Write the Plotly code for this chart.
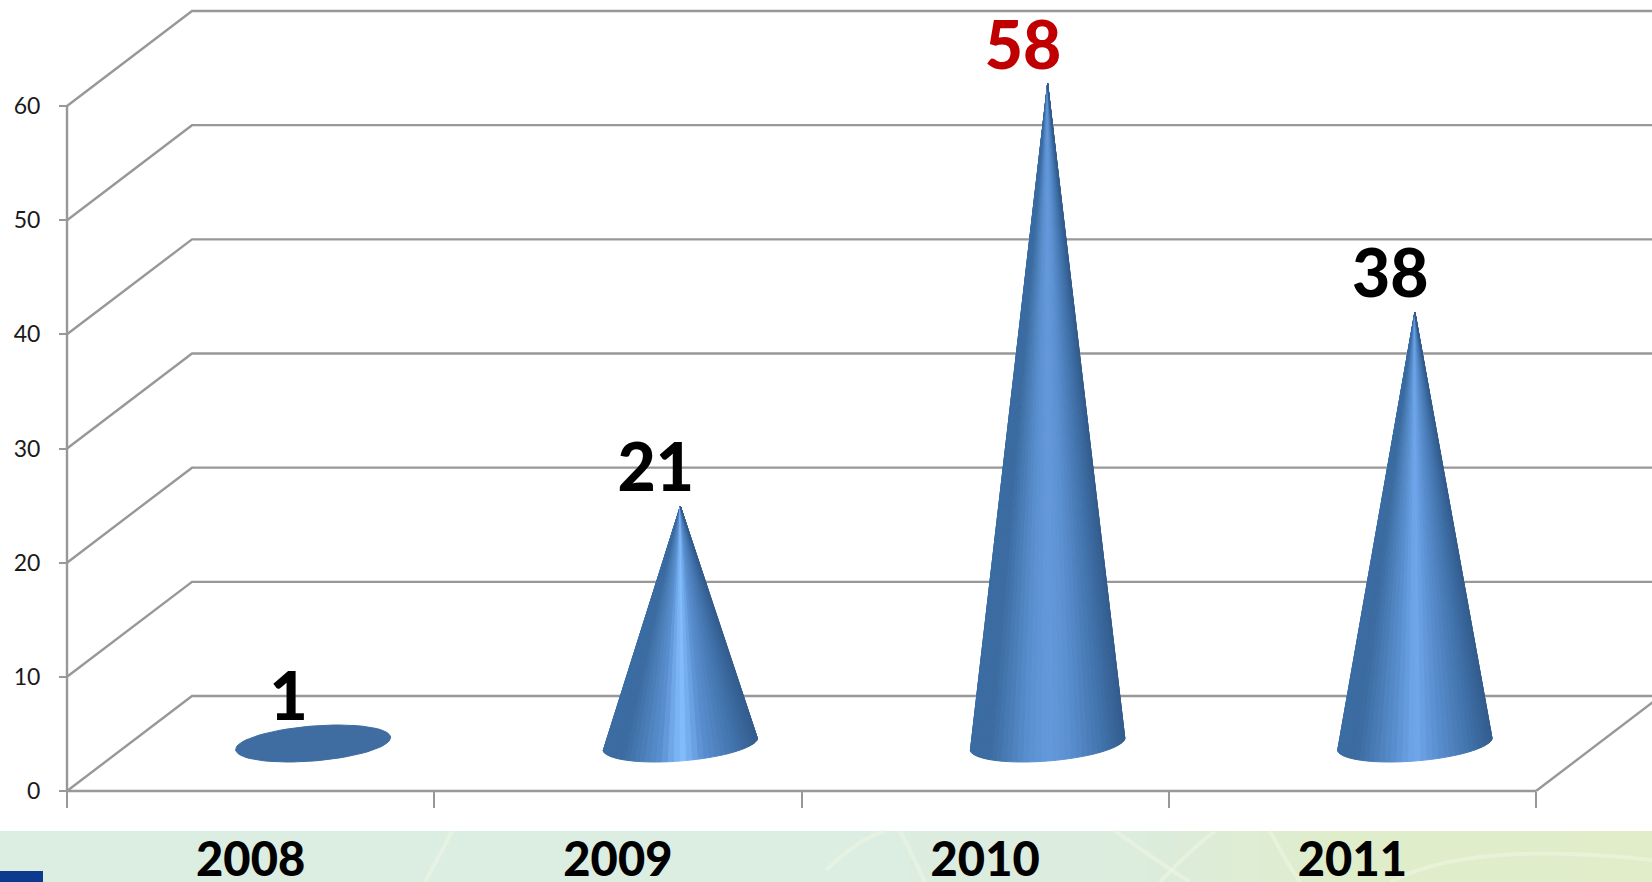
import math
import plotly.graph_objects as go

# ---- data ----
years = ["2008", "2009", "2010", "2011"]
values = [1, 21, 58, 38]
grid_values = [0, 10, 20, 30, 40, 50, 60]

# ---- style ----
W, H = 1652, 882
L, R, T, B = 67, 116, 106, 91
XU = (W - L - R) / 4.0          # px per category
YU = (H - T - B) / 60.0         # px per value unit
DEPTH_X = 125 / XU
DEPTH_Y = 95 / YU
GRID = "#989898"
FONT = "Lato"
RX = 77.5 / XU
RY = 17.5 / YU
TILT = 6.0 / YU
LABEL_DX = 38 / XU
LABEL_DY = 76.5 / YU
APEX_INSET = 2.5 / YU
HIGHLIGHT = ["#4A7DB5", "#84BEFF", "#6499DC", "#70A8EC"]
N = 40


def lerp(c1, c2, f):
    a = [int(c1[i:i + 2], 16) for i in (1, 3, 5)]
    b = [int(c2[i:i + 2], 16) for i in (1, 3, 5)]
    return "rgb(%d,%d,%d)" % tuple(round(a[i] + (b[i] - a[i]) * f) for i in range(3))


def shade(u, hi):
    stops = [(-1, "#3A6CA3"), (-0.75, "#3B6B9F"), (-0.25, "#5A90D0"), (0.02, hi),
             (0.3, "#5A8FD0"), (0.75, "#3F70A8"), (1, "#325C8D")]
    for (u0, c0), (u1, c1) in zip(stops, stops[1:]):
        if u <= u1:
            return lerp(c0, c1, (u - u0) / (u1 - u0))
    return stops[-1][1]


fig = go.Figure()


def line(xs, ys):
    fig.add_trace(go.Scatter(x=xs, y=ys, mode="lines", hoverinfo="skip",
                             line=dict(color=GRID, width=2.4), showlegend=False))


# back wall, side wall and floor edge, one per gridline
XMAX = 4 + R / XU + DEPTH_X
for g in grid_values:
    line([0, DEPTH_X, XMAX], [g, g + DEPTH_Y, g + DEPTH_Y])
line([4, 4 + DEPTH_X], [0, DEPTH_Y])
line([0, 0], [0, grid_values[-1]])      # value axis line
line([0, 4], [0, 0])                    # category axis line

# cones, as fans of thin polygons from apex to base ellipse
for i, v in enumerate(values):
    cx = i + 0.5 + DEPTH_X / 2
    cy = DEPTH_Y / 2
    ay = cy + v - APEX_INSET
    hi = HIGHLIGHT[i]
    def base(t):
        return cx + RX * math.cos(t), cy + TILT * math.cos(t) - RY * math.sin(t)
    if v < RY:
        ts = [2 * math.pi * k / 72 for k in range(73)]
        pts = [base(t) for t in ts]
        fig.add_trace(go.Scatter(x=[p[0] for p in pts], y=[p[1] for p in pts], mode="lines",
                                 fill="toself", fillcolor="#3F6DA1", line=dict(color="#3F6DA1", width=1),
                                 hoverinfo="skip", showlegend=False))
        continue
    ts = [math.pi - math.pi * k / N for k in range(N + 1)]
    for t0, t1 in zip(ts, ts[1:]):
        x0, y0 = base(t0)
        x1, y1 = base(t1)
        col = shade(math.cos((t0 + t1) / 2), hi)
        fig.add_trace(go.Scatter(x=[cx, x0, x1, cx], y=[ay, y0, y1, ay], mode="lines",
                                 fill="toself", fillcolor=col, line=dict(color=col, width=1),
                                 hoverinfo="skip", showlegend=False))

# value labels
fig.add_trace(go.Scatter(
    x=[i + 0.5 + LABEL_DX for i in range(4)],
    y=[v + LABEL_DY for v in values],
    mode="text", text=[str(v) for v in values], textposition="middle center",
    textfont=dict(family=FONT, size=66, color=["#000000", "#000000", "#C00000", "#000000"], weight=900),
    hoverinfo="skip", showlegend=False))

# trace carrying the tick-mark axis
fig.add_trace(go.Scatter(x=[0, 4], y=[0, 0], xaxis="x2", yaxis="y", mode="lines",
                         line=dict(color=GRID, width=2), hoverinfo="skip", showlegend=False))


# decorative green band (pixel fractions of the page)
def px(x):
    return x / W


def py(y):
    return (H - y) / H


shapes = []
band = [(0, "#DCEDE2"), (800, "#DCEDE2"), (1130, "#DCECDD"), (1330, "#DFEDCB"), (1652, "#E1EDC9")]
STEP = 14
for x in range(0, W, STEP):
    col = band[-1][1]
    for (a, c0), (b, c1) in zip(band, band[1:]):
        if a <= x <= b:
            col = lerp(c0, c1, (x - a) / (b - a))
            break
    shapes.append(dict(type="rect", xref="paper", yref="paper", x0=px(x), x1=px(x + STEP + 1),
                       y0=py(882), y1=py(831), fillcolor=col, line_width=0, layer="below"))
swirls = [[(425, 882), (440, 855), (452, 831)],
          [(826, 870), (860, 838), (885, 831)],
          [(900, 831), (915, 860), (925, 882)],
          [(1115, 831), (1170, 870), (1190, 882)],
          [(1160, 882), (1190, 850), (1215, 831)],
          [(1270, 831), (1285, 860), (1300, 882)],
          [(1390, 882), (1470, 840), (1652, 860)]]
for (a, b, c) in swirls:
    path = "M %f,%f Q %f,%f %f,%f" % (px(a[0]), py(a[1]), px(b[0]), py(b[1]), px(c[0]), py(c[1]))
    shapes.append(dict(type="path", xref="paper", yref="paper", path=path,
                       line=dict(color="rgba(238,245,226,0.55)", width=4), layer="below"))
shapes.append(dict(type="rect", xref="paper", yref="paper", x0=px(0), x1=px(43), y0=py(882), y1=py(871),
                   fillcolor="#0B3A8E", line_width=0, layer="below"))

xpos = B / H
ypos = L / W
fig.update_layout(
    width=W, height=H, autosize=False,
    margin=dict(l=0, r=0, t=0, b=0, pad=0),
    paper_bgcolor="white", plot_bgcolor="rgba(0,0,0,0)",
    showlegend=False, hovermode=False, shapes=shapes,
    xaxis=dict(range=[-L / XU, (W - L) / XU], anchor="free", position=xpos, automargin=False,
               tickmode="array", tickvals=[0.5, 1.5, 2.5, 3.5], ticktext=years,
               ticks="", showgrid=False, zeroline=False, showline=False, ticklabelstandoff=37,
               tickfont=dict(family=FONT, size=47, color="#000000", weight=900)),
    xaxis2=dict(range=[-L / XU, (W - L) / XU], overlaying="x", anchor="free", position=xpos, side="bottom",
                automargin=False, tickmode="array", tickvals=[0, 1, 2, 3, 4], ticktext=["", "", "", "", ""],
                ticks="outside", ticklen=16, tickwidth=2, tickcolor=GRID, showgrid=False, zeroline=False,
                showline=False),
    yaxis=dict(range=[-B / YU, (H - B) / YU], anchor="free", position=ypos, automargin=False,
               tickmode="array", tickvals=grid_values, ticks="outside", ticklen=8,
               tickwidth=2, tickcolor=GRID, showgrid=False, zeroline=False, showline=False,
               ticklabelstandoff=14, tickfont=dict(family=FONT, size=23, color="#1A1A1A")),
)
fig.write_html("out.html", config={"displayModeBar": False},
               post_script="document.body.style.margin='0';document.body.style.overflow='hidden';")
